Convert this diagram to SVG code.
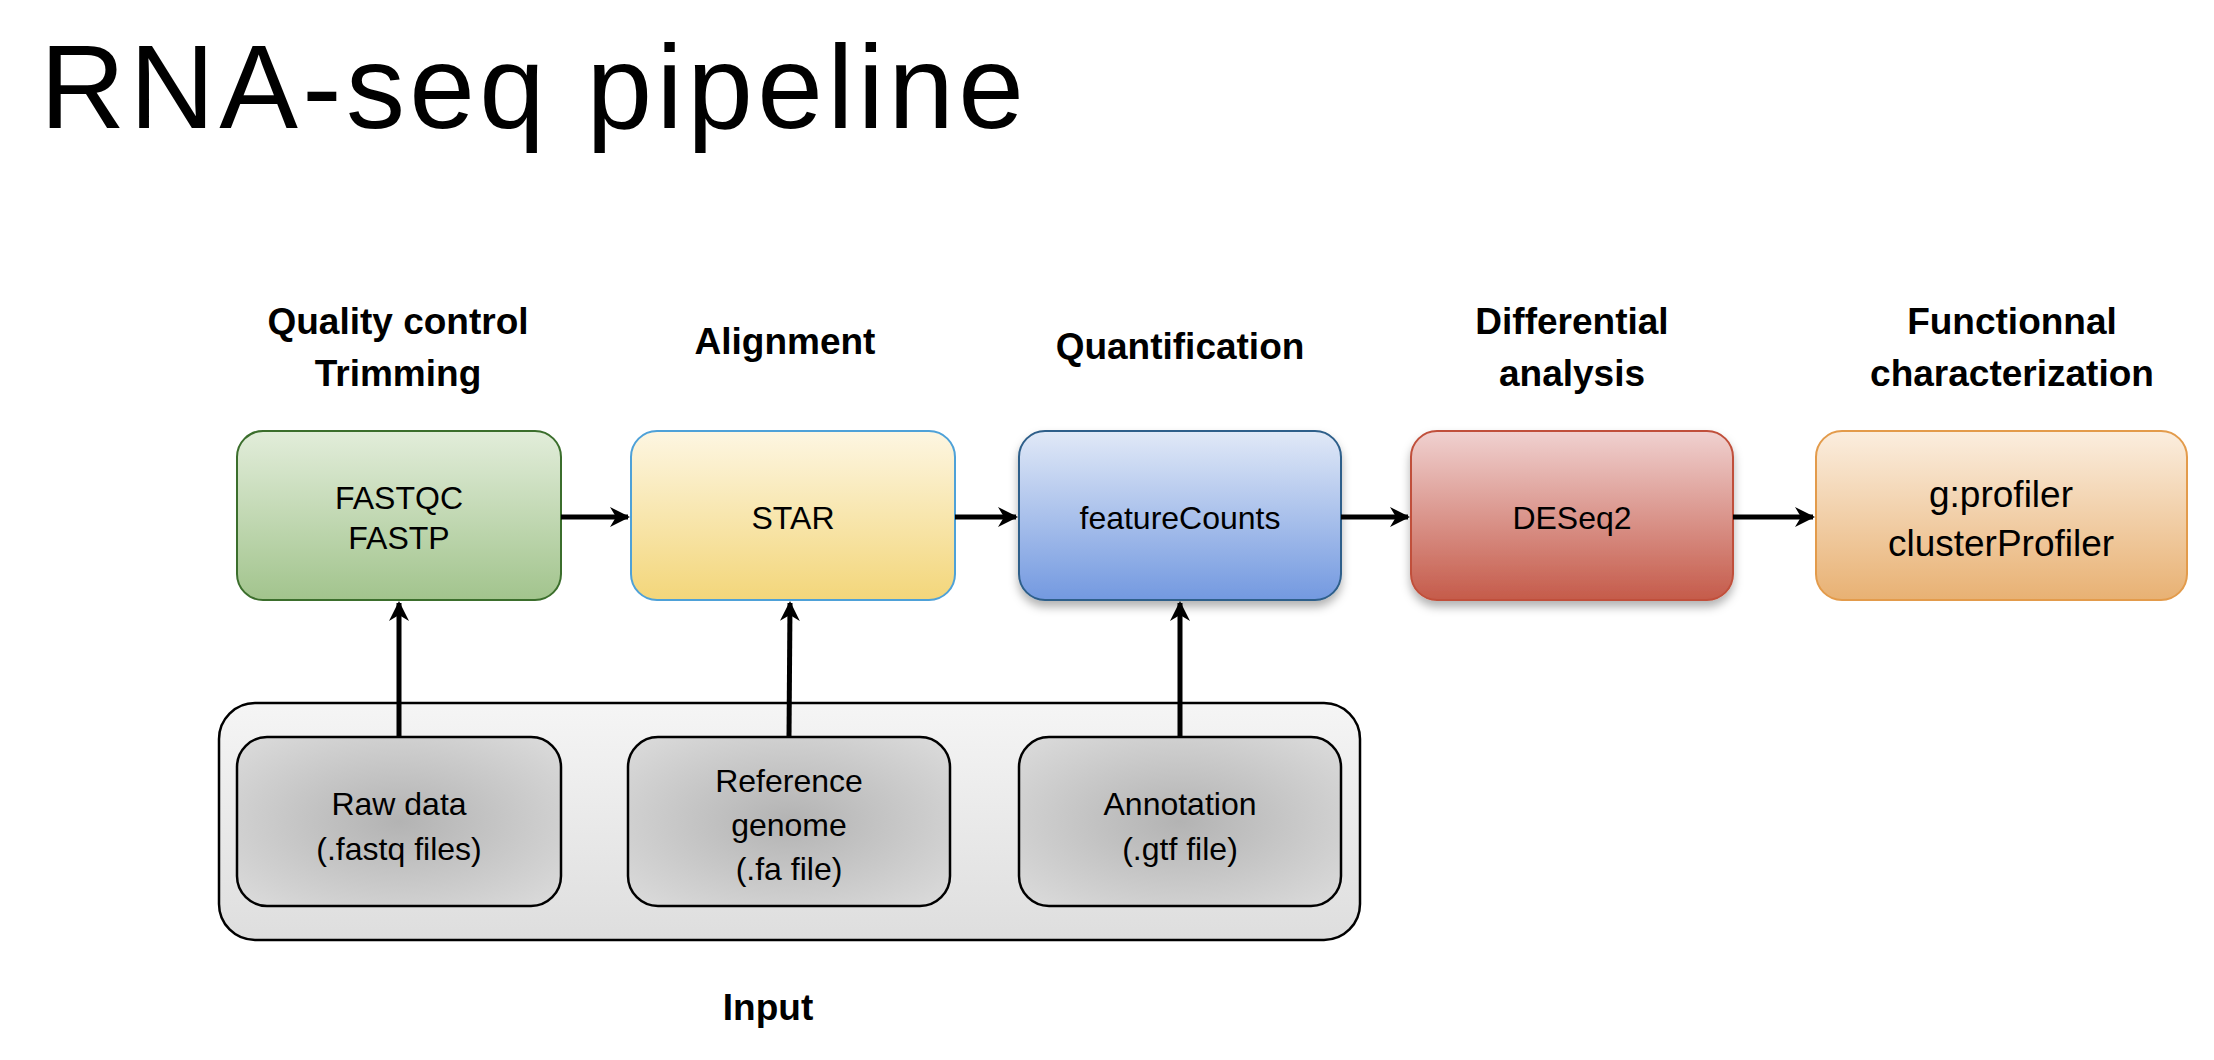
<svg xmlns="http://www.w3.org/2000/svg" width="2214" height="1060" viewBox="0 0 2214 1060">
<style>
text{font-family:"Liberation Sans",Arial,sans-serif;fill:#000;text-anchor:middle}
.h{font-weight:bold;font-size:37px}
.b{font-size:32px}
.c{stroke:#000;stroke-width:5;fill:none}
</style>
<defs>
<linearGradient id="gG" x1="0" y1="0" x2="0" y2="1"><stop offset="0" stop-color="#e2edda"/><stop offset="1" stop-color="#a2c48d"/></linearGradient>
<linearGradient id="gY" x1="0" y1="0" x2="0" y2="1"><stop offset="0" stop-color="#fdf6e2"/><stop offset="1" stop-color="#f3d67a"/></linearGradient>
<linearGradient id="gB" x1="0" y1="0" x2="0" y2="1"><stop offset="0" stop-color="#e1e9f7"/><stop offset="1" stop-color="#7399e0"/></linearGradient>
<linearGradient id="gR" x1="0" y1="0" x2="0" y2="1"><stop offset="0" stop-color="#f0d1d0"/><stop offset="1" stop-color="#c55b4a"/></linearGradient>
<linearGradient id="gO" x1="0" y1="0" x2="0" y2="1"><stop offset="0" stop-color="#fbeedf"/><stop offset="1" stop-color="#e8b173"/></linearGradient>
<linearGradient id="gI" x1="0" y1="0" x2="0" y2="1"><stop offset="0" stop-color="#f5f5f5"/><stop offset="1" stop-color="#dedede"/></linearGradient>
<radialGradient id="gS" cx="0.5" cy="0.5" r="0.7"><stop offset="0" stop-color="#b3b3b3"/><stop offset="1" stop-color="#dcdcdc"/></radialGradient>
<filter id="sh" x="-10%" y="-10%" width="120%" height="130%"><feDropShadow dx="0" dy="6" stdDeviation="5" flood-color="#000" flood-opacity="0.3"/></filter>
<marker id="ar" viewBox="0 0 10 10" refX="9" refY="5" markerWidth="4" markerHeight="4" orient="auto"><path d="M0,0 L10,5 L0,10 L3,5 z" fill="#000"/></marker>
</defs>
<text x="40" y="128" style="font-size:118px;text-anchor:start" textLength="984" lengthAdjust="spacing">RNA-seq pipeline</text>
<text class="h" x="398" y="334">Quality control</text>
<text class="h" x="398" y="386">Trimming</text>
<text class="h" x="785" y="354">Alignment</text>
<text class="h" x="1180" y="359">Quantification</text>
<text class="h" x="1572" y="334">Differential</text>
<text class="h" x="1572" y="386">analysis</text>
<text class="h" x="2012" y="334">Functionnal</text>
<text class="h" x="2012" y="386">characterization</text>
<g id="input">
<rect x="219" y="703" width="1141" height="237" rx="36" fill="url(#gI)" stroke="#000" stroke-width="2.5"/>
<text class="h" x="768" y="1020">Input</text>
</g>
<g id="raw"><rect x="237" y="737" width="324" height="169" rx="30" fill="url(#gS)" stroke="#000" stroke-width="2.5"/>
<text class="b" x="399" y="815">Raw data</text><text class="b" x="399" y="860">(.fastq files)</text></g>
<g id="ref"><rect x="628" y="737" width="322" height="169" rx="30" fill="url(#gS)" stroke="#000" stroke-width="2.5"/>
<text class="b" x="789" y="792">Reference</text><text class="b" x="789" y="836">genome</text><text class="b" x="789" y="880">(.fa file)</text></g>
<g id="annot"><rect x="1019" y="737" width="322" height="169" rx="30" fill="url(#gS)" stroke="#000" stroke-width="2.5"/>
<text class="b" x="1180" y="815">Annotation</text><text class="b" x="1180" y="860">(.gtf file)</text></g>
<g id="fastqc"><rect x="237" y="431" width="324" height="169" rx="26" fill="url(#gG)" stroke="#3b6e2c" stroke-width="2"/>
<text class="b" x="399" y="509">FASTQC</text><text class="b" x="399" y="549">FASTP</text></g>
<g id="star"><rect x="631" y="431" width="324" height="169" rx="26" fill="url(#gY)" stroke="#4ea1d8" stroke-width="2"/>
<text class="b" x="793" y="529">STAR</text></g>
<g id="fc"><rect x="1019" y="431" width="322" height="169" rx="26" fill="url(#gB)" stroke="#2e5f8a" stroke-width="2" filter="url(#sh)"/>
<text class="b" x="1180" y="529">featureCounts</text></g>
<g id="deseq"><rect x="1411" y="431" width="322" height="169" rx="26" fill="url(#gR)" stroke="#c0503b" stroke-width="2" filter="url(#sh)"/>
<text class="b" x="1572" y="529">DESeq2</text></g>
<g id="func"><rect x="1816" y="431" width="371" height="169" rx="26" fill="url(#gO)" stroke="#e39b4b" stroke-width="2"/>
<text class="b" style="font-size:37px" x="2001" y="507">g:profiler</text><text class="b" style="font-size:37px" x="2001" y="556">clusterProfiler</text></g>
<g id="connectors">
<line class="c" x1="561" y1="517" x2="628" y2="517" marker-end="url(#ar)"/>
<line class="c" x1="955" y1="517" x2="1016" y2="517" marker-end="url(#ar)"/>
<line class="c" x1="1341" y1="517" x2="1408" y2="517" marker-end="url(#ar)"/>
<line class="c" x1="1733" y1="517" x2="1813" y2="517" marker-end="url(#ar)"/>
<line class="c" x1="399" y1="737" x2="399" y2="603" marker-end="url(#ar)"/>
<line class="c" x1="789" y1="737" x2="790" y2="603" marker-end="url(#ar)"/>
<line class="c" x1="1180" y1="737" x2="1180" y2="603" marker-end="url(#ar)"/>
</g>
</svg>
